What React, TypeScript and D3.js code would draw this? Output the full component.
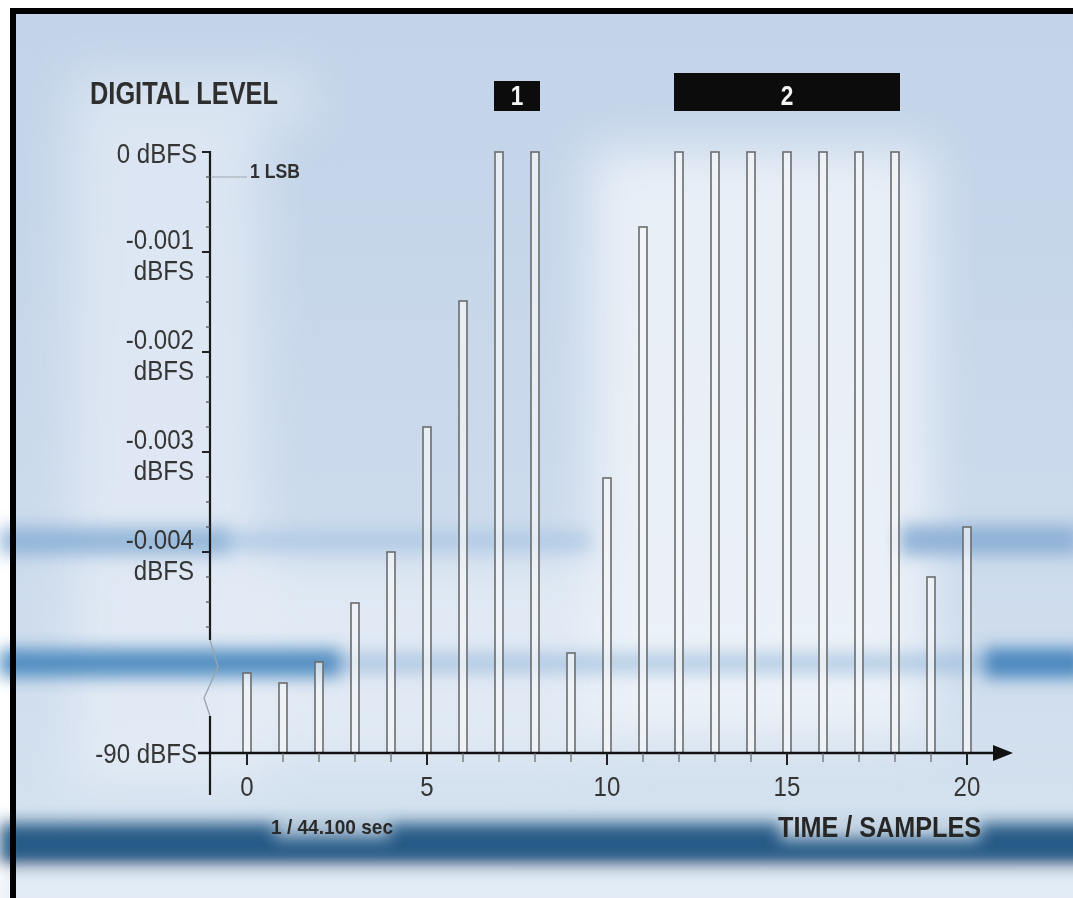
import React from "react";
import * as d3 from "d3";

// sample index and level (dBFS)
const samples = [0, 1, 2, 3, 4, 5, 6, 7, 8, 9, 10, 11, 12, 13, 14, 15, 16, 17, 18, 19, 20];
const levels = [
  -0.00521, -0.00531, -0.0051, -0.00451, -0.004, -0.00275, -0.00149, 0, 0, -0.00501,
  -0.00326, -0.00075, 0, 0, 0, 0, 0, 0, 0, -0.00425, -0.00375,
];

const yMajorTicks = [0, -0.001, -0.002, -0.003, -0.004];
const yMajorLabels = ["0 dBFS", "-0.001", "-0.002", "-0.003", "-0.004"];
const yMinorStep = 0.00025;
const yFloor = -90;
const yFloorLabel = "-90 dBFS";
const xTickLabels = [0, 5, 10, 15, 20];

const groupLabels = ["1", "2"];
const groupFirst = [7, 12];
const groupLast = [8, 18];

const W = 1073;
const H = 898;
const FONT = "'Liberation Sans', Arial, Helvetica, sans-serif";

// condensed text: regular font squeezed horizontally
const NText: React.FC<{
  x: number;
  y: number;
  size: number;
  sx?: number;
  bold?: boolean;
  anchor?: "start" | "middle" | "end";
  fill?: string;
  children: React.ReactNode;
}> = ({ x, y, size, sx = 0.84, bold, anchor = "start", fill = "#353535", children }) => (
  <text
    transform={`translate(${x},${y}) scale(${sx},1)`}
    fontFamily={FONT}
    fontSize={size}
    fontWeight={bold ? 700 : 400}
    textAnchor={anchor}
    fill={fill}
  >
    {children}
  </text>
);

const App: React.FC = () => {
  const x = d3.scaleLinear().domain([0, 20]).range([247, 967]);
  // broken axis: linear down to the break, then compressed to -90 dBFS
  const y = d3.scaleLinear().domain([yFloor, -0.0056, 0]).range([753, 712, 152]);

  const axisX = 210;
  const baseY = y(yFloor);
  const breakTop = y(-0.00488);
  const breakBottom = y(-0.0056);

  const minorTicks = d3.range(0, -0.0048, -yMinorStep).map((v) => +v.toFixed(5));

  const zig = d3.line<[number, number]>()([
    [axisX, breakTop],
    [axisX + 8, breakTop + 27],
    [axisX - 6, breakTop + 58],
    [axisX, breakBottom + 4],
  ]);

  return (
    <div style={{ position: "absolute", left: 0, top: 0 }}>
      <svg width={W} height={H} style={{ display: "block" }}>
        <defs>
          <filter id="blur8" x="-20%" y="-200%" width="140%" height="500%">
            <feGaussianBlur stdDeviation="8" />
          </filter>
          <filter id="blur20" x="-50%" y="-50%" width="200%" height="200%">
            <feGaussianBlur stdDeviation="24" />
          </filter>
          <linearGradient id="bg" x1="0" y1="0" x2="0" y2="1">
            <stop offset="0" stopColor="#c3d4e9" />
            <stop offset="0.5" stopColor="#cad9eb" />
            <stop offset="1" stopColor="#d6e3f0" />
          </linearGradient>
        </defs>

        {/* page and frame */}
        <rect x={0} y={0} width={W} height={H} fill="#ffffff" />
        <rect x={13} y={11} width={W - 13} height={H - 11} fill="url(#bg)" />

        {/* soft light areas */}
        <g filter="url(#blur20)">
          <rect x={590} y={150} width={340} height={590} fill="#f4f7fb" opacity={0.75} />
          <rect x={70} y={120} width={190} height={670} fill="#eef3f9" opacity={0.55} />
          <rect x={240} y={560} width={360} height={200} fill="#eef3f9" opacity={0.55} />
          <rect x={70} y={70} width={240} height={55} fill="#eef3f9" opacity={0.45} />
        </g>

        {/* blurred horizontal bands */}
        <g filter="url(#blur8)">
          <rect x={0} y={527} width={230} height={28} fill="#86acd4" opacity={0.8} />
          <rect x={230} y={530} width={360} height={22} fill="#9dbde0" opacity={0.55} />
          <rect x={900} y={525} width={180} height={30} fill="#86acd4" opacity={0.85} />
          <rect x={0} y={649} width={340} height={28} fill="#3d80ba" opacity={0.85} />
          <rect x={340} y={653} width={650} height={20} fill="#7aa7d0" opacity={0.45} />
          <rect x={985} y={648} width={100} height={30} fill="#3d80ba" opacity={0.9} />
          <rect x={0} y={823} width={W + 20} height={42} fill="#1c5281" opacity={0.95} />
          <rect x={0} y={874} width={W + 20} height={40} fill="#e4edf6" opacity={0.9} />
        </g>

        {/* halos behind bottom texts */}
        <g filter="url(#blur8)">
          <rect x={275} y={816} width={115} height={22} fill="#dfe9f3" opacity={0.7} />
          <rect x={780} y={812} width={200} height={28} fill="#dfe9f3" opacity={0.8} />
        </g>

        {/* frame: top and left edges */}
        <rect x={10} y={8} width={W - 10} height={6} fill="#000" />
        <rect x={10} y={8} width={6} height={H - 8} fill="#000" />

        {/* title */}
        <text
          x={90}
          y={104}
          fontFamily={FONT}
          fontSize={31}
          fontWeight={700}
          fill="#2e2e2e"
          textLength={188}
          lengthAdjust="spacingAndGlyphs"
        >
          DIGITAL LEVEL
        </text>

        {/* group boxes */}
        {groupLabels.map((lab, i) => {
          const x0 = x(groupFirst[i]) - 5;
          const x1 = x(groupLast[i]) + 5;
          const top = i === 0 ? 81 : 73;
          return (
            <g key={lab}>
              <rect x={x0} y={top} width={x1 - x0} height={111 - top} fill="#0c0c0c" />
              <NText x={(x0 + x1) / 2} y={105} size={27} bold anchor="middle" fill="#f4f4f4">
                {lab}
              </NText>
            </g>
          );
        })}

        {/* bars */}
        {samples.map((s, i) => (
          <rect
            key={s}
            x={x(s) - 4}
            y={y(levels[i])}
            width={8}
            height={baseY - y(levels[i])}
            fill="#f3f6fa"
            fillOpacity={0.7}
            stroke="#6c6c6c"
            strokeWidth={1.6}
          />
        ))}

        {/* y axis */}
        <line x1={axisX} x2={axisX} y1={y(0) - 1} y2={breakTop} stroke="#1a1a1a" strokeWidth={2.2} />
        <path d={zig ?? ""} fill="none" stroke="#9aa3ad" strokeWidth={1.3} />
        <line x1={axisX} x2={axisX} y1={breakBottom + 4} y2={795} stroke="#1a1a1a" strokeWidth={2.2} />
        {minorTicks.map((v) => (
          <line key={v} x1={axisX - 4} x2={axisX} y1={y(v)} y2={y(v)} stroke="#555" strokeWidth={1.3} />
        ))}
        {yMajorTicks.map((v) => (
          <line key={v} x1={axisX - 8} x2={axisX} y1={y(v)} y2={y(v)} stroke="#222" strokeWidth={2} />
        ))}
        <line x1={axisX - 8} x2={axisX} y1={baseY} y2={baseY} stroke="#222" strokeWidth={2} />

        {/* 1 LSB marker */}
        <line x1={axisX + 2} x2={247} y1={y(-yMinorStep)} y2={y(-yMinorStep)} stroke="#a0a6ad" strokeWidth={1} />
        <NText x={250} y={y(-yMinorStep) + 1} size={20} bold sx={0.88} fill="#303030">
          1 LSB
        </NText>

        {/* y labels */}
        {yMajorTicks.map((v, i) =>
          i === 0 ? (
            <NText key={v} x={197} y={y(v) + 11} size={28} anchor="end" sx={0.86}>
              {yMajorLabels[i]}
            </NText>
          ) : (
            <g key={v}>
              <NText x={194} y={y(v) - 3} size={28} anchor="end" sx={0.86}>
                {yMajorLabels[i]}
              </NText>
              <NText x={194} y={y(v) + 28} size={28} anchor="end" sx={0.86}>
                dBFS
              </NText>
            </g>
          )
        )}
        <NText x={197} y={baseY + 10} size={28} anchor="end" sx={0.86}>
          {yFloorLabel}
        </NText>

        {/* x axis */}
        <line x1={198} x2={996} y1={baseY} y2={baseY} stroke="#111" strokeWidth={2.6} />
        <path
          d={`M${x(20) + 26},${baseY - 8} L${x(20) + 46},${baseY} L${x(20) + 26},${baseY + 8} Z`}
          fill="#111"
        />
        {samples.map((s) => {
          const major = xTickLabels.includes(s);
          return (
            <line
              key={s}
              x1={x(s)}
              x2={x(s)}
              y1={baseY}
              y2={baseY + (major ? 12 : 9)}
              stroke={major ? "#222" : "#666"}
              strokeWidth={major ? 2 : 1.2}
            />
          );
        })}
        {xTickLabels.map((t) => (
          <NText key={t} x={x(t)} y={796} size={28} anchor="middle" sx={0.86}>
            {t}
          </NText>
        ))}

        {/* axis captions */}
        <text
          x={271}
          y={834}
          fontFamily={FONT}
          fontSize={21}
          fontWeight={700}
          fill="#2a2a2a"
          textLength={122}
          lengthAdjust="spacingAndGlyphs"
        >
          1 / 44.100 sec
        </text>
        <text
          x={778}
          y={837}
          fontFamily={FONT}
          fontSize={30}
          fontWeight={700}
          fill="#262626"
          textLength={203}
          lengthAdjust="spacingAndGlyphs"
        >
          TIME / SAMPLES
        </text>
      </svg>
    </div>
  );
};

export default App;
